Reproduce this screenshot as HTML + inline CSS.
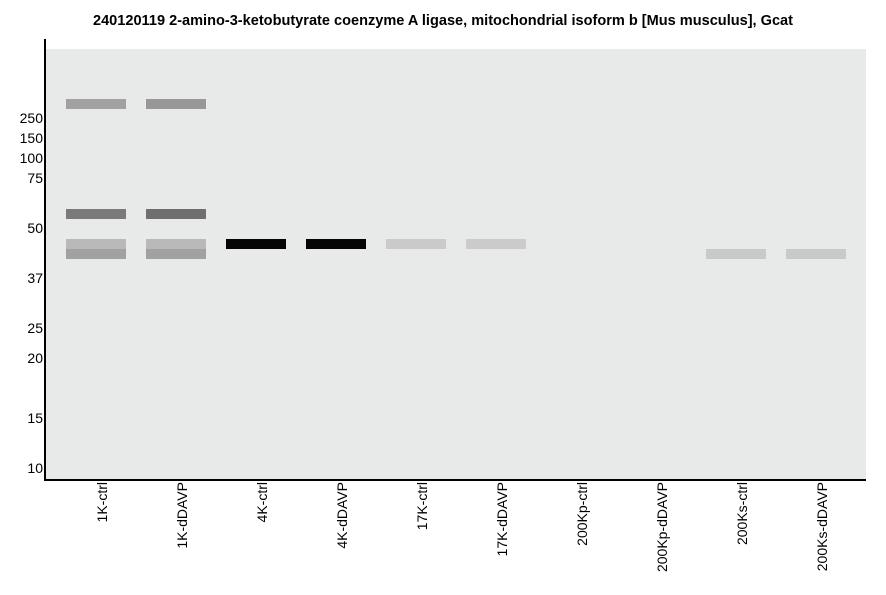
<!DOCTYPE html>
<html><head><meta charset="utf-8"><style>
html,body{margin:0;padding:0;background:#fff;}
svg{display:block;}
text{font-family:"Liberation Sans",Arial,sans-serif;}
</style></head><body>
<svg width="886" height="595" viewBox="0 0 886 595" xmlns="http://www.w3.org/2000/svg">
<rect x="0" y="0" width="886" height="595" fill="#fff"/>
<text x="93" y="25" font-size="14.5" font-weight="bold" fill="#000" textLength="700" lengthAdjust="spacingAndGlyphs">240120119 2-amino-3-ketobutyrate coenzyme A ligase, mitochondrial isoform b [Mus musculus], Gcat</text>
<rect x="46" y="49" width="820" height="430" fill="#e8e9e9"/>
<!-- bands -->
<rect x="66" y="99" width="60" height="10" fill="#a1a1a1"/>
<rect x="146" y="99" width="60" height="10" fill="#979797"/>
<rect x="66" y="209" width="60" height="10" fill="#7a7a7a"/>
<rect x="146" y="209" width="60" height="10" fill="#6f6f6f"/>
<rect x="66" y="239" width="60" height="10" fill="#b9b9b9"/>
<rect x="146" y="239" width="60" height="10" fill="#b9b9b9"/>
<rect x="66" y="249" width="60" height="10" fill="#a1a1a1"/>
<rect x="146" y="249" width="60" height="10" fill="#a1a1a1"/>
<rect x="226" y="239" width="60" height="10" fill="#050505"/>
<rect x="306" y="239" width="60" height="10" fill="#050505"/>
<rect x="386" y="239" width="60" height="10" fill="#cacaca"/>
<rect x="466" y="239" width="60" height="10" fill="#cbcbcb"/>
<rect x="706" y="249" width="60" height="10" fill="#c9c9c9"/>
<rect x="786" y="249" width="60" height="10" fill="#c9c9c9"/>
<!-- axes -->
<rect x="44" y="39" width="2" height="442" fill="#000"/>
<rect x="44" y="479" width="822" height="2" fill="#000"/>
<!-- y tick labels -->
<g font-size="14" text-anchor="end" fill="#000">
<text x="43" y="123">250</text>
<text x="43" y="143">150</text>
<text x="43" y="163">100</text>
<text x="43" y="183">75</text>
<text x="43" y="233">50</text>
<text x="43" y="283">37</text>
<text x="43" y="333">25</text>
<text x="43" y="363">20</text>
<text x="43" y="423">15</text>
<text x="43" y="473">10</text>
</g>
<!-- x labels -->
<g font-size="14" text-anchor="end" fill="#000">
<text transform="translate(107,482) rotate(-90)">1K-ctrl</text>
<text transform="translate(187,482) rotate(-90)">1K-dDAVP</text>
<text transform="translate(267,482) rotate(-90)">4K-ctrl</text>
<text transform="translate(347,482) rotate(-90)">4K-dDAVP</text>
<text transform="translate(427,482) rotate(-90)">17K-ctrl</text>
<text transform="translate(507,482) rotate(-90)">17K-dDAVP</text>
<text transform="translate(587,482) rotate(-90)">200Kp-ctrl</text>
<text transform="translate(667,482) rotate(-90)">200Kp-dDAVP</text>
<text transform="translate(747,482) rotate(-90)">200Ks-ctrl</text>
<text transform="translate(827,482) rotate(-90)">200Ks-dDAVP</text>
</g>
</svg>
</body></html>
